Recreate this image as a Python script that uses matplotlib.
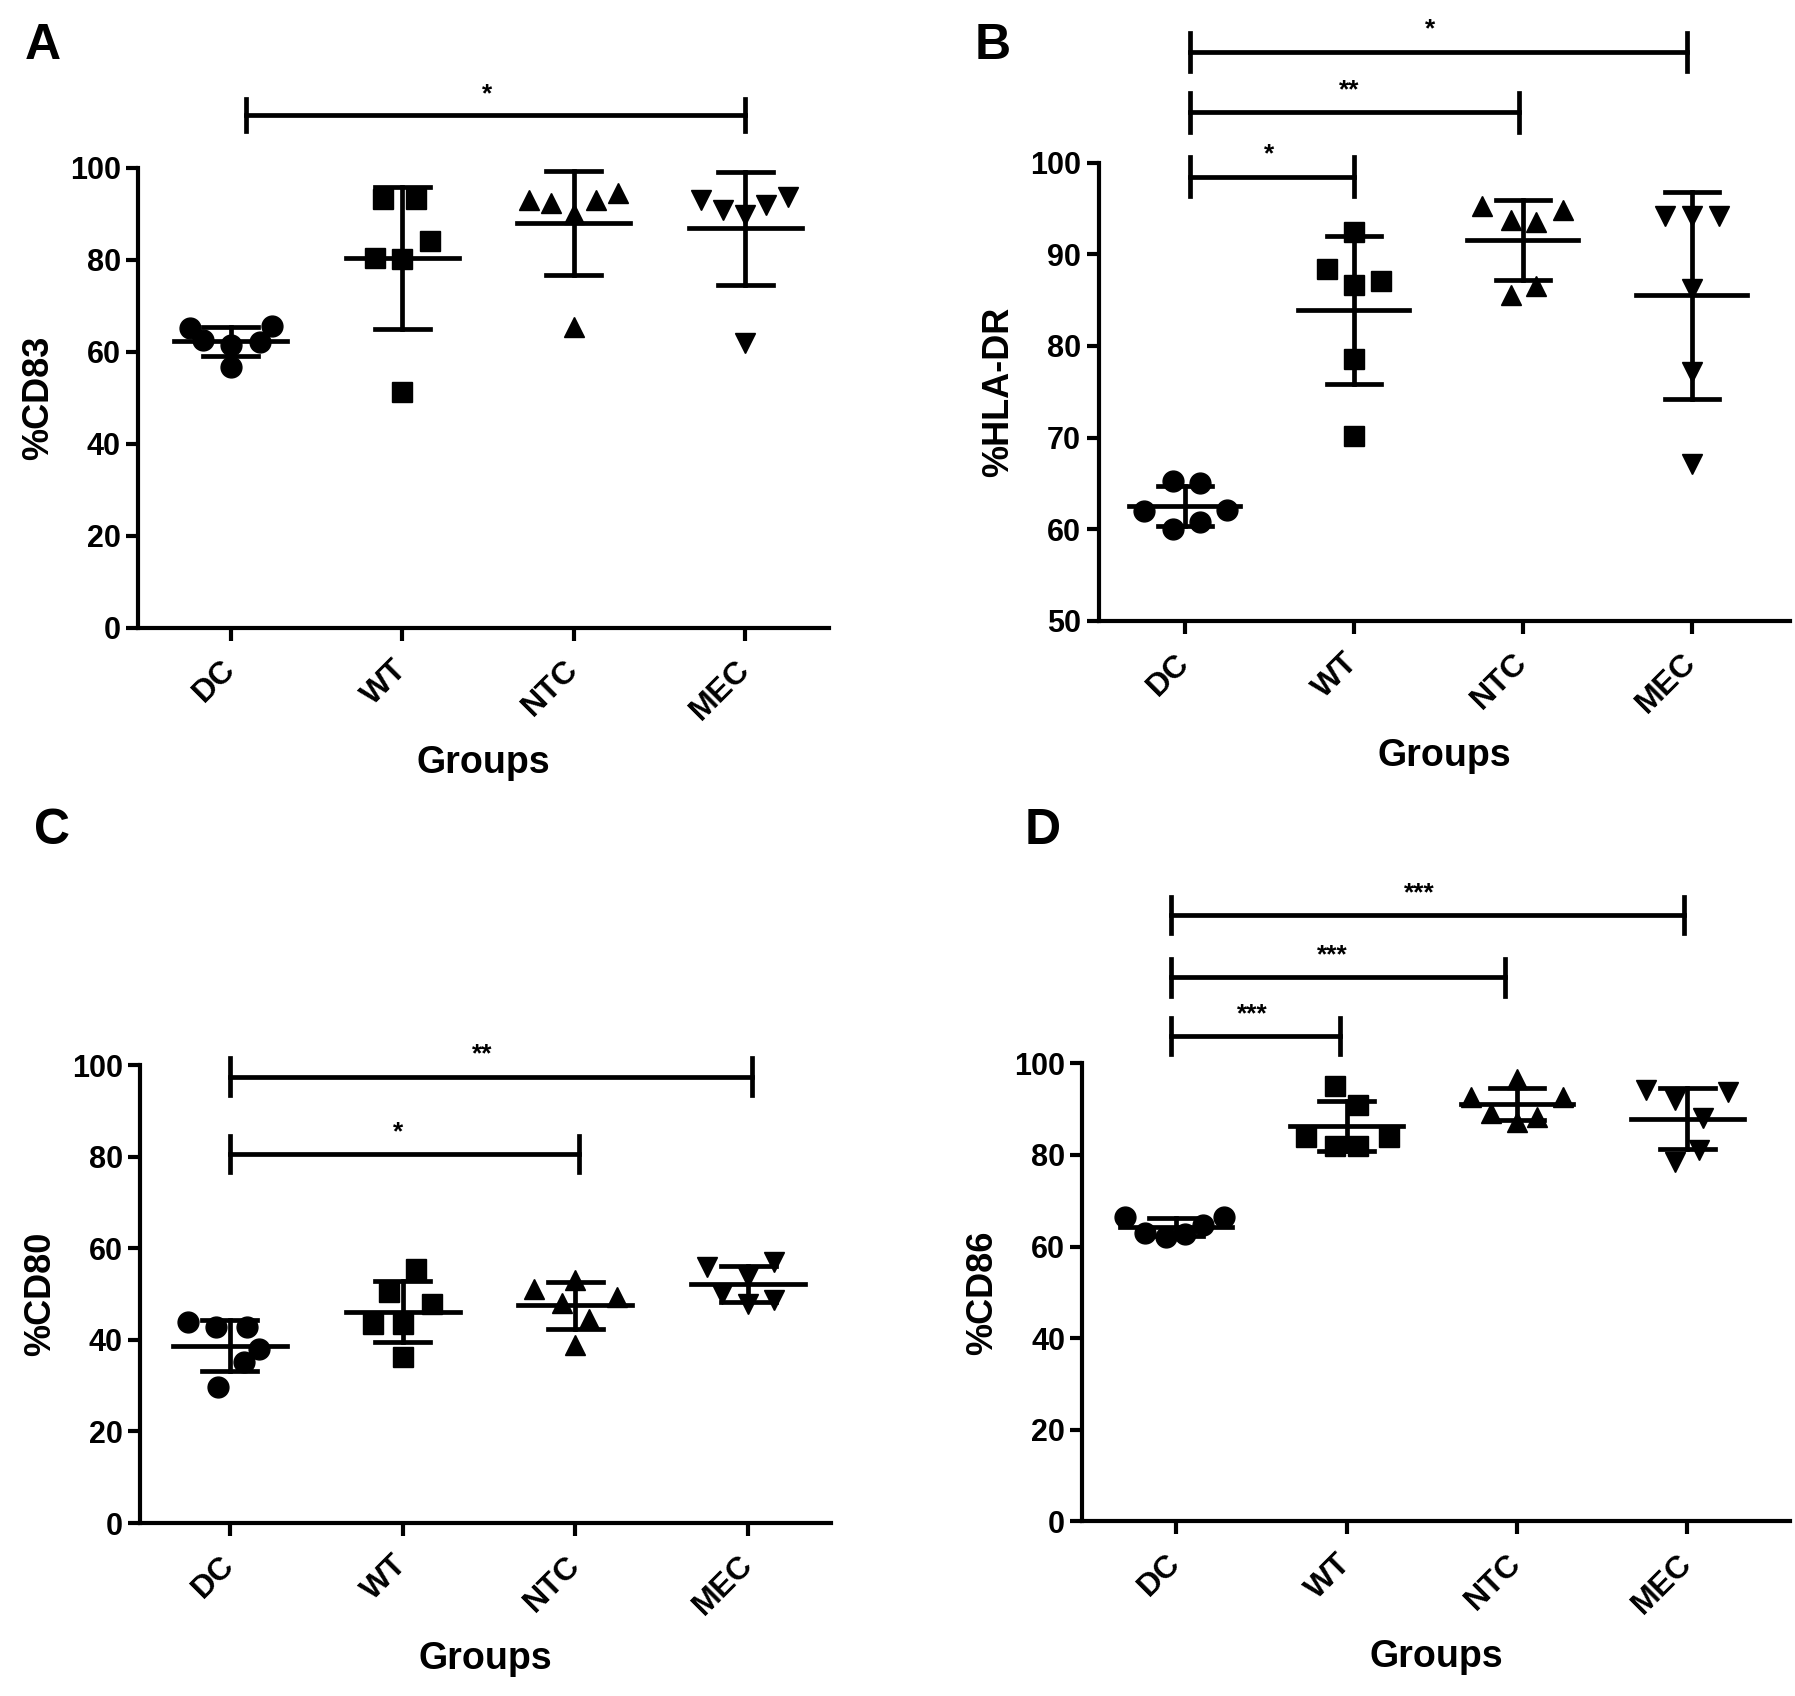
import numpy as np
import matplotlib
matplotlib.use("Agg")
import matplotlib.pyplot as plt

plt.rcParams["font.family"] = ["Liberation Sans", "DejaVu Sans"]
plt.rcParams["font.weight"] = "bold"

GROUPS = ["DC", "WT", "NTC", "MEC"]
MARKERS = ["o", "s", "^", "v"]

# ── values (6 donors per group) ──────────────────────────────────────────────
cd83_dc = [65.2, 65.6, 62.5, 62.2, 56.7, 61.5]
cd83_wt = [93.3, 93.3, 84.1, 80.5, 80.2, 51.2]
cd83_ntc = [93.0, 92.3, 93.0, 94.6, 90.0, 65.3]
cd83_mec = [93.0, 90.8, 89.7, 91.9, 93.7, 62.0]

hla_dc = [65.3, 65.0, 62.0, 62.1, 60.0, 60.8]
hla_wt = [92.5, 88.4, 86.7, 87.1, 78.6, 70.2]
hla_ntc = [95.3, 94.9, 93.8, 93.5, 85.6, 86.5]
hla_mec = [94.2, 94.2, 94.2, 86.2, 77.2, 67.1]

cd80_dc = [43.9, 42.8, 42.8, 38.0, 35.1, 29.6]
cd80_wt = [55.4, 50.5, 47.9, 43.5, 43.5, 36.2]
cd80_ntc = [51.2, 53.0, 48.0, 49.4, 44.6, 38.8]
cd80_mec = [55.9, 57.0, 53.7, 50.1, 47.9, 48.6]

cd86_dc = [66.5, 66.5, 64.8, 63.0, 62.0, 62.8]
cd86_wt = [95.0, 91.0, 84.0, 84.0, 82.0, 82.0]
cd86_ntc = [96.7, 92.7, 92.7, 89.1, 88.4, 87.3]
cd86_mec = [94.2, 93.8, 92.0, 88.0, 81.1, 78.5]

# horizontal scatter of the points inside each group (category units)
off_a = [[-0.24, 0.24, -0.16, 0.17, 0.0, 0.0],
         [-0.11, 0.08, 0.16, -0.16, 0.0, 0.0],
         [-0.26, -0.13, 0.13, 0.26, 0.0, 0.0],
         [-0.26, -0.13, 0.0, 0.12, 0.25, 0.0]]
off_b = [[-0.07, 0.09, -0.24, 0.25, -0.07, 0.09],
         [0.0, -0.16, 0.0, 0.16, 0.0, 0.0],
         [-0.24, 0.24, -0.07, 0.08, -0.07, 0.08],
         [-0.16, 0.0, 0.16, 0.0, 0.0, 0.0]]
off_c = [[-0.24, -0.08, 0.10, 0.17, 0.08, -0.07],
         [0.08, -0.08, 0.17, -0.17, 0.0, 0.0],
         [-0.24, 0.0, -0.08, 0.24, 0.08, 0.0],
         [-0.24, 0.15, 0.0, -0.15, 0.0, 0.15]]
off_d = [[-0.30, 0.28, 0.16, -0.18, -0.06, 0.05],
         [-0.07, 0.07, -0.24, 0.25, -0.07, 0.07],
         [0.0, -0.27, 0.27, -0.15, 0.12, 0.0],
         [-0.24, 0.24, -0.07, 0.09, 0.07, -0.07]]

# significance brackets: (x_left, x_right, y, label)
sig_a = [(0.09, 3.0, 111.5, "*")]
sig_b = [(0.03, 1.0, 98.5, "*"), (0.03, 1.98, 105.5, "**"), (0.03, 2.97, 112.1, "*")]
sig_c = [(0.0, 2.02, 80.6, "*"), (0.0, 3.02, 97.5, "**")]
sig_d = [(-0.03, 0.96, 106.0, "***"), (-0.03, 1.93, 118.8, "***"), (-0.03, 2.98, 132.4, "***")]

LW = 3.4


def panel(rect, series, offsets, sigs, ylabel, ylim, yticks, xlim, tick_h):
    ax = fig.add_axes(rect)
    for i, (vals, offs) in enumerate(zip(series, offsets)):
        vals = np.asarray(vals)
        ax.plot(i + np.asarray(offs), vals, MARKERS[i], color="black",
                markersize=15, zorder=3, clip_on=False)
        m = vals.mean()
        sd = vals.std(ddof=1)
        ax.plot([i - 0.33, i + 0.33], [m, m], color="black", lw=LW, zorder=4)
        ax.plot([i, i], [m - sd, m + sd], color="black", lw=LW, zorder=4)
        for y in (m - sd, m + sd):
            ax.plot([i - 0.16, i + 0.16], [y, y], color="black", lw=LW, zorder=4)
    for x0, x1, y, lab in sigs:
        ax.plot([x0, x1], [y, y], color="black", lw=LW, clip_on=False)
        for x in (x0, x1):
            ax.plot([x, x], [y - tick_h, y + tick_h], color="black", lw=LW, clip_on=False)
        ax.text((x0 + x1) / 2 - 0.05 * (x1 - x0) / 3, y + tick_h * 0.55, lab,
                ha="center", va="bottom", fontsize=19, fontweight="bold")
    ax.set_xlim(*xlim)
    ax.set_ylim(*ylim)
    ax.set_yticks(yticks)
    ax.set_xticks(range(len(GROUPS)))
    ax.set_xticklabels(GROUPS, rotation=45, ha="right", va="center",
                       rotation_mode="anchor", fontsize=23, fontweight="bold")
    ax.tick_params(axis="y", labelsize=22, width=3, length=9)
    ax.tick_params(axis="x", width=3, length=9, pad=18)
    for t in ax.get_yticklabels():
        t.set_fontweight("bold")
    for s in ("top", "right"):
        ax.spines[s].set_visible(False)
    for s in ("left", "bottom"):
        ax.spines[s].set_linewidth(3)
    ax.set_ylabel(ylabel, fontsize=26, fontweight="bold", labelpad=10)
    ax.set_xlabel("Groups", fontsize=27, fontweight="bold", labelpad=14)
    return ax


fig = plt.figure(figsize=(17.95, 16.96), dpi=100)

panel([0.077, 0.630, 0.385, 0.271], [cd83_dc, cd83_wt, cd83_ntc, cd83_mec], off_a, sig_a,
      "%CD83", (0, 100), range(0, 101, 20), (-0.54, 3.49), 3.5)
panel([0.612, 0.634, 0.385, 0.270], [hla_dc, hla_wt, hla_ntc, hla_mec], off_b, sig_b,
      "%HLA-DR", (50, 100), range(50, 101, 10), (-0.51, 3.58), 2.1)
panel([0.078, 0.102, 0.385, 0.270], [cd80_dc, cd80_wt, cd80_ntc, cd80_mec], off_c, sig_c,
      "%CD80", (0, 100), range(0, 101, 20), (-0.52, 3.48), 4.0)
panel([0.603, 0.103, 0.394, 0.270], [cd86_dc, cd86_wt, cd86_ntc, cd86_mec], off_d, sig_d,
      "%CD86", (0, 100), range(0, 101, 20), (-0.55, 3.60), 4.0)

for lab, x, y in [("A", 0.024, 0.973), ("B", 0.553, 0.973), ("C", 0.029, 0.51), ("D", 0.581, 0.51)]:
    fig.text(x, y, lab, fontsize=36, fontweight="bold", ha="center", va="center")

fig.savefig("out.png", dpi=100)
